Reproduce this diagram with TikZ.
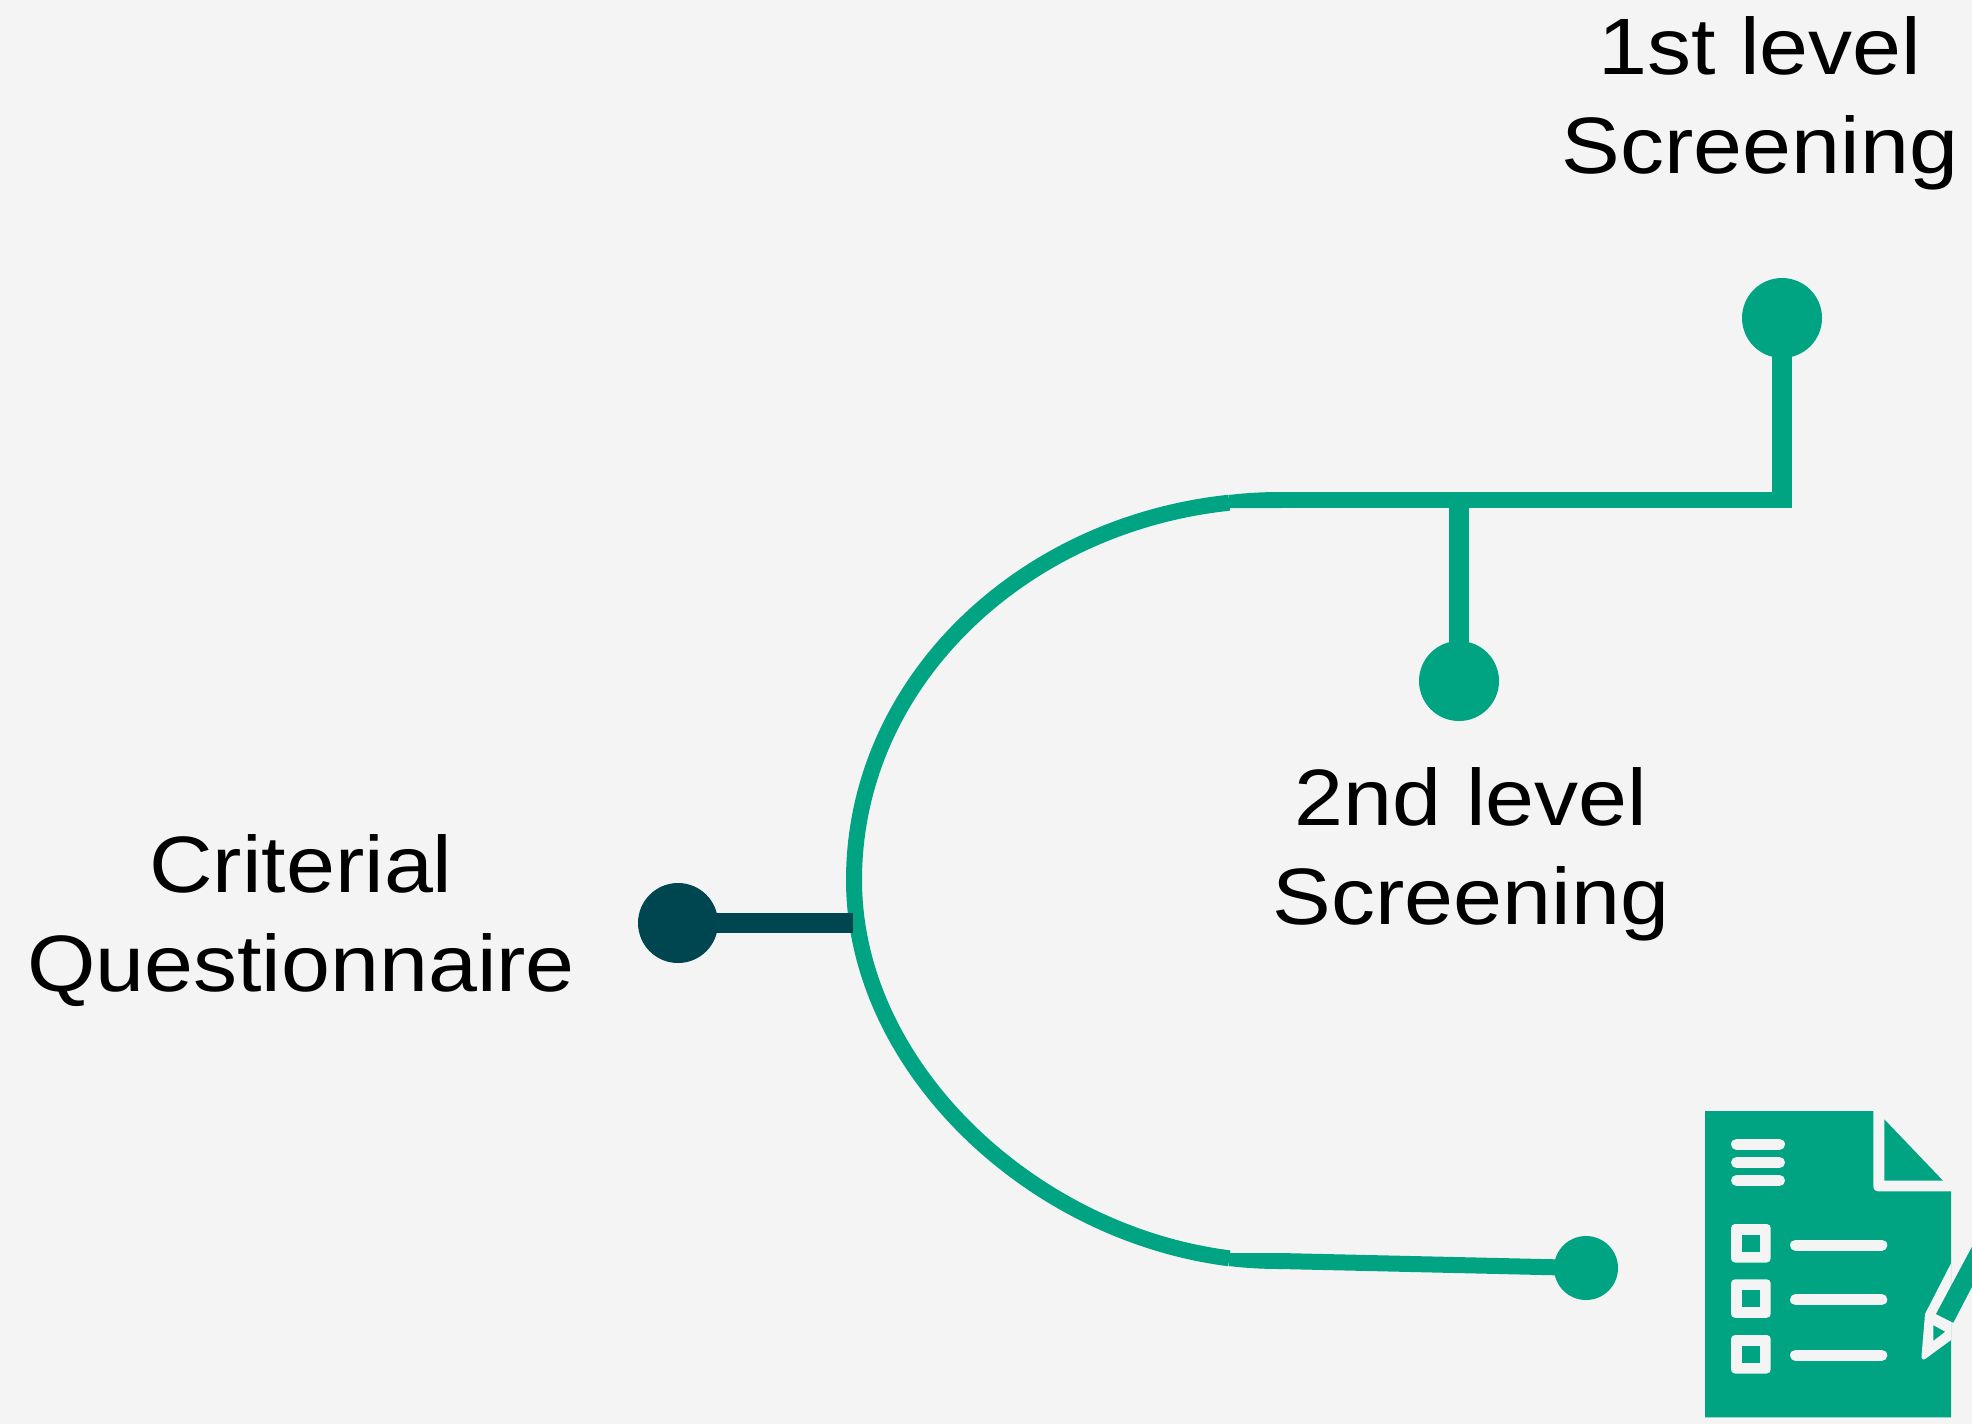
\documentclass[tikz,border=0pt]{standalone}
\usepackage{fontspec}
\setmainfont{Liberation Sans}[FakeStretch=1.10]
\definecolor{bgc}{HTML}{F4F4F4}
\definecolor{grn}{HTML}{00A382}
\definecolor{drk}{HTML}{004650}
\tikzset{
  dot/.style={circle,fill=grn,inner sep=0pt,minimum size=#1},
  hline/.style={draw=grn,line width=16pt},
  vline/.style={draw=grn,line width=20pt},
  lab/.style={align=center,inner sep=0pt,font=\fontsize{80}{99}\selectfont,text=black},
  iconline/.style={draw=bgc,line width=11pt,line cap=round},
}
\begin{document}
\begin{tikzpicture}[x=1pt,y=-1pt]
\useasboundingbox[fill=bgc] (0,0) rectangle (1972,1424);
% labels
\node[lab] (l1) at (1760,103) {1st level\\Screening};
\node[lab] (l2) at (1471,854) {2nd level\\Screening};
\node[lab] (l3) at (301,921) {Criterial\\Questionnaire};
% markers
\node[dot=80pt] (first) at (1782,318) {};
\node[dot=80pt] (second) at (1459,681) {};
\node[dot=64pt] (third) at (1586,1268) {};
\node[dot=80pt,fill=drk] (start) at (678,923) {};
% junction points
\coordinate (apex) at (854,880);
\coordinate (topEnd) at (1229.3,502.7);
\coordinate (botEnd) at (1229.3,1258.3);
\coordinate (corner) at (1782,500);
\coordinate (stem) at (1459,500);
\coordinate (botJoin) at (1280,1261);
\coordinate (hit) at (853,923);
% main curve
\draw[hline] (topEnd) .. controls (1018.2,525) and (854,685.3) .. (apex)
   .. controls (854,1066) and (1030,1233) .. (botEnd);
% joins
\fill[grn] (1229,495) .. controls (1245,493) and (1262,492) .. (1281,492) -- (1281,508) -- (1229,508) -- cycle;
\fill[grn] (1229,1253) -- (1281,1253) -- (1281,1269) .. controls (1262,1269) and (1245,1268) .. (1229,1266) -- cycle;
% connectors
\draw[hline] (1280,500) -- (1792,500);
\draw[vline] (first.center) -- (corner);
\draw[vline] (second.center) -- (stem);
\draw[hline] (botJoin) -- (third.center);
\draw[draw=drk,line width=20pt] (start.center) -- (hit);
% icon
\fill[grn] (1705,1111) -- (1873.3,1111) [rounded corners=4pt] -- (1873.3,1191.3) [sharp corners] -- (1951,1191.3) -- (1951,1417.3) -- (1705,1417.3) -- cycle;
\fill[grn] (1884.3,1119.3) -- (1943,1180.7) -- (1884.3,1180.7) -- cycle;
\foreach \yy in {1144.3,1162.5,1180.5} \draw[iconline] (1736.5,\yy) -- (1779.5,\yy);
\foreach \yy/\ym in {1224/1245,1279.3/1299.7,1335/1355.3}{
  \fill[bgc,rounded corners=4pt] (1731,\yy) rectangle (1770.7,\yy+38.5);
  \fill[grn] (1742,\yy+10.7) rectangle (1760,\yy+27.7);
  \draw[iconline] (1795.5,\ym) -- (1881.8,\ym);
}
% pencil
\fill[bgc] (1951,1263.3) -- (1925,1314) [rounded corners=6pt] -- (1921,1362) [sharp corners] -- (1951,1340) -- cycle;
\fill[grn] (1972,1246.7) -- (1936,1314) -- (1953.3,1322.7) -- (1972,1286.7) -- cycle;
\fill[grn] (1933.3,1325.3) -- (1945,1331.7) -- (1933.3,1340.7) -- cycle;
\end{tikzpicture}
\end{document}
